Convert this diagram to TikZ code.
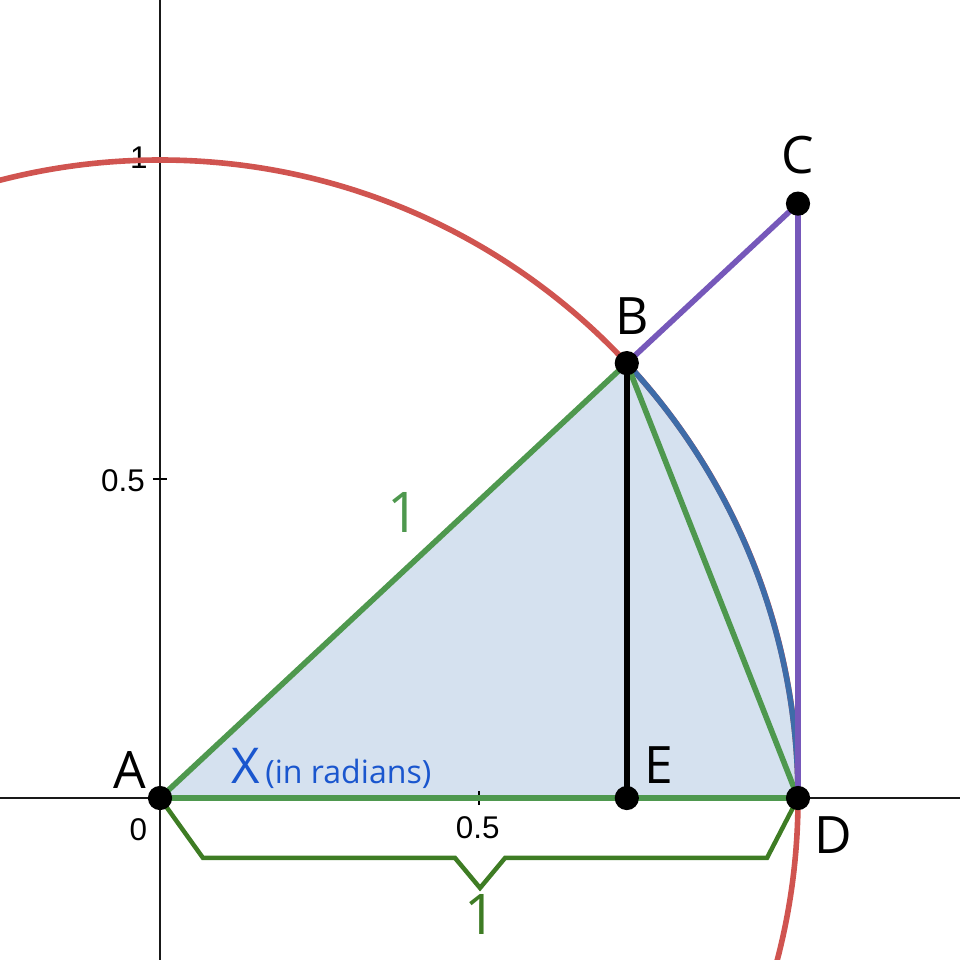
\documentclass[tikz,border=0pt]{standalone}
\usepackage{fontspec}
\setmainfont{Open Sans}
\newfontfamily\tickfont{Liberation Sans}
\definecolor{circred}{RGB}{208,84,80}
\definecolor{arcblue}{RGB}{62,108,168}
\definecolor{purp}{RGB}{118,88,186}
\definecolor{lgreen}{RGB}{78,152,78}
\definecolor{dgreen}{RGB}{62,124,36}
\definecolor{fillblue}{RGB}{213,225,239}
\definecolor{xblue}{RGB}{26,86,206}
\tikzset{
  axis/.style={line width=1.3pt, black!90},
  tickmark/.style={line width=1.1pt, black},
  ticklbl/.style={font=\tickfont\fontsize{14}{16}\selectfont, inner sep=0pt},
  ptlbl/.style={font=\fontsize{23}{26}\selectfont, inner sep=0pt},
  seg/.style={line width=2.5pt, line cap=round},
  dot/.style={circle, fill=black, inner sep=0pt, minimum size=10.8pt},
}
\begin{document}
\begin{tikzpicture}[x=10cm,y=10cm]
\useasboundingbox (-0.2508,-0.2539) rectangle (1.2539,1.2508);
\coordinate (A) at (0,0);
\coordinate (B) at ({cos(0.75 r)},{sin(0.75 r)});
\coordinate (C) at (1,{tan(0.75 r)});
\coordinate (D) at (1,0);
\coordinate (E) at ({cos(0.75 r)},0);
% sector fill
\fill[fillblue] (A) -- (D) arc[start angle=0, end angle={0.75*180/pi}, radius=1] -- cycle;
% axes
\draw[axis] (-0.2508,0) coordinate (xl) -- (1.2539,0) coordinate (xr);
\draw[axis] (0,-0.2539) coordinate (yb) -- (0,1.2508) coordinate (yt);
\draw[tickmark] (0.5,-0.011) -- (0.5,0.011);
\draw[tickmark] (1,-0.011) -- (1,0.011);
\draw[tickmark] (-0.011,0.5) -- (0.011,0.5);
\draw[tickmark] (-0.011,1) -- (0.011,1);
\node[ticklbl] (t0) at (-0.034,-0.050) {0};
\node[ticklbl] (tx5) at (0.498,-0.047) {0.5};
\node[ticklbl] (ty5) at (-0.058,0.498) {0.5};
\node[ticklbl] (ty1) at (-0.033,1.003) {1};
% unit circle
\draw[line width=2.5pt, circred] (0,0) circle[radius=1];
% arc BD
\draw[line width=2.5pt, arcblue] (D) arc[start angle=0, end angle={0.75*180/pi}, radius=1];
% segments
\draw[seg, lgreen] (A) -- (B);
\draw[seg, lgreen] (A) -- (D);
\draw[seg, lgreen] (B) -- (D);
\draw[seg, black] (B) -- (E);
\draw[seg, purp] (B) -- (C) -- (D);
% brace
\draw[line width=2pt, dgreen, line join=miter] (A) -- (0.0674,-0.094) -- (0.4624,-0.094) -- (0.5016,-0.141) -- (0.5408,-0.094) -- (0.9514,-0.094) -- (D);
% points
\foreach \p in {A,B,C,D,E} \node[dot] (dot\p) at (\p) {};
% labels
\node[ptlbl] (lA) at (-0.047,0.044) {A};
\node[ptlbl] (lB) at (0.740,0.755) {B};
\node[ptlbl] (lC) at (1.0,1.008) {C};
\node[ptlbl] (lD) at (1.055,-0.058) {D};
\node[ptlbl] (lE) at (0.782,0.052) {E};
\node[inner sep=0pt, text=xblue, anchor=base west] (lX) at (0.111,0.0235) {\fontsize{22}{24}\selectfont X\hspace{2.5pt}\fontsize{14.3}{16}\selectfont(in radians)};
\node[inner sep=0pt, text=lgreen, font=\fontsize{25}{28}\selectfont] (l1) at (0.381,0.448) {1};
\node[inner sep=0pt, text=dgreen, font=\fontsize{25}{28}\selectfont] (l2) at (0.502,-0.183) {1};
\end{tikzpicture}
\end{document}
